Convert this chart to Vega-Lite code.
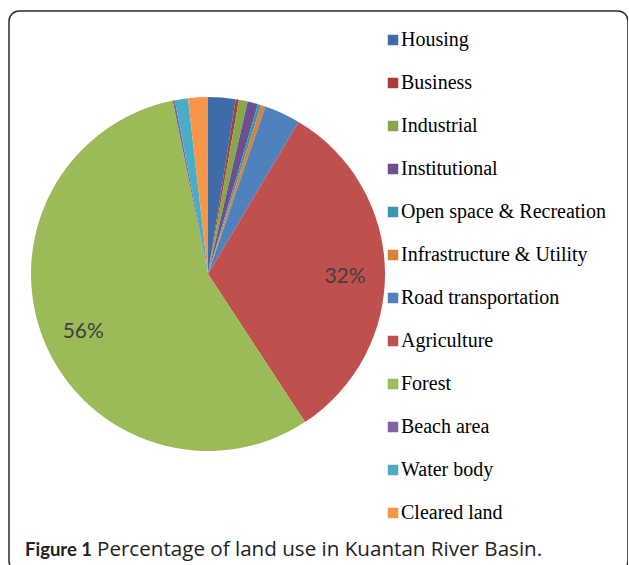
{
  "$schema": "https://vega.github.io/schema/vega-lite/v6.json",
  "width": 619,
  "height": 560,
  "autosize": {"type": "none"},
  "padding": {"left": 9, "top": 11, "right": 0, "bottom": 0},
  "background": "white",
  "view": {"stroke": "#2b2b2b", "strokeWidth": 1.5, "cornerRadius": 10, "fill": "white"},
  "config": {"view": {"stroke": "#2b2b2b", "strokeWidth": 1.5, "cornerRadius": 10}},
  "data": {"values": [
    {"category": "Housing", "pct": 2.5},
    {"category": "Business", "pct": 0.3},
    {"category": "Industrial", "pct": 0.8},
    {"category": "Institutional", "pct": 0.95},
    {"category": "Open space & Recreation", "pct": 0.3},
    {"category": "Infrastructure & Utility", "pct": 0.4},
    {"category": "Road transportation", "pct": 3.3},
    {"category": "Agriculture", "pct": 32.2},
    {"category": "Forest", "pct": 56.0},
    {"category": "Beach area", "pct": 0.2},
    {"category": "Water body", "pct": 1.2},
    {"category": "Cleared land", "pct": 1.8}
  ]},
  "layer": [
    {
      "transform": [{"window": [{"op": "row_number", "as": "rank"}]}],
      "mark": {"type": "arc", "outerRadius": 177, "x": 199, "y": 263},
      "encoding": {
        "theta": {"field": "pct", "type": "quantitative", "stack": true},
        "order": {"field": "rank", "type": "quantitative"},
        "color": {
          "field": "category", "type": "nominal", "sort": null,
          "scale": {
            "domain": ["Housing", "Business", "Industrial", "Institutional", "Open space & Recreation", "Infrastructure & Utility", "Road transportation", "Agriculture", "Forest", "Beach area", "Water body", "Cleared land"],
            "range": ["#3F6BA8", "#A83D3A", "#86A74B", "#6B4F8F", "#3B97B0", "#DA8137", "#4F81BD", "#C0504D", "#9BBB59", "#8064A2", "#4BACC6", "#F79646"]
          },
          "legend": {
            "orient": "none", "legendX": 374, "legendY": 19, "title": null,
            "symbolType": "square", "symbolSize": 110, "symbolStrokeWidth": 0,
            "labelFont": "Liberation Serif", "labelFontSize": 20, "labelColor": "#000000",
            "rowPadding": 23, "clipHeight": 20, "labelOffset": -2, "padding": 0, "labelLimit": 300
          }
        }
      }
    },
    {
      "transform": [
        {"window": [{"op": "row_number", "as": "rank"}]},
        {"calculate": "datum.pct > 10 ? format(datum.pct, '.0f') + '%' : ''", "as": "label"}
      ],
      "mark": {"type": "text", "radius": 136, "x": 200, "y": 269, "font": "Lato", "fontSize": 21, "color": "#404040"},
      "encoding": {
        "theta": {"field": "pct", "type": "quantitative", "stack": true},
        "order": {"field": "rank", "type": "quantitative"},
        "detail": {"field": "category", "type": "nominal"},
        "text": {"field": "label", "type": "nominal"}
      }
    },
    {
      "data": {"values": [{"t": "Figure 1"}]},
      "mark": {"type": "text", "x": 16, "y": 545, "align": "left", "baseline": "alphabetic", "font": "Lato", "fontWeight": "bold", "fontSize": 18.5, "color": "#222222"},
      "encoding": {"text": {"field": "t", "type": "nominal"}}
    },
    {
      "data": {"values": [{"t": "Percentage of land use in Kuantan River Basin."}]},
      "mark": {"type": "text", "x": 88, "y": 545, "align": "left", "baseline": "alphabetic", "font": "Open Sans", "fontSize": 20.6, "color": "#222222"},
      "encoding": {"text": {"field": "t", "type": "nominal"}}
    }
  ]
}
